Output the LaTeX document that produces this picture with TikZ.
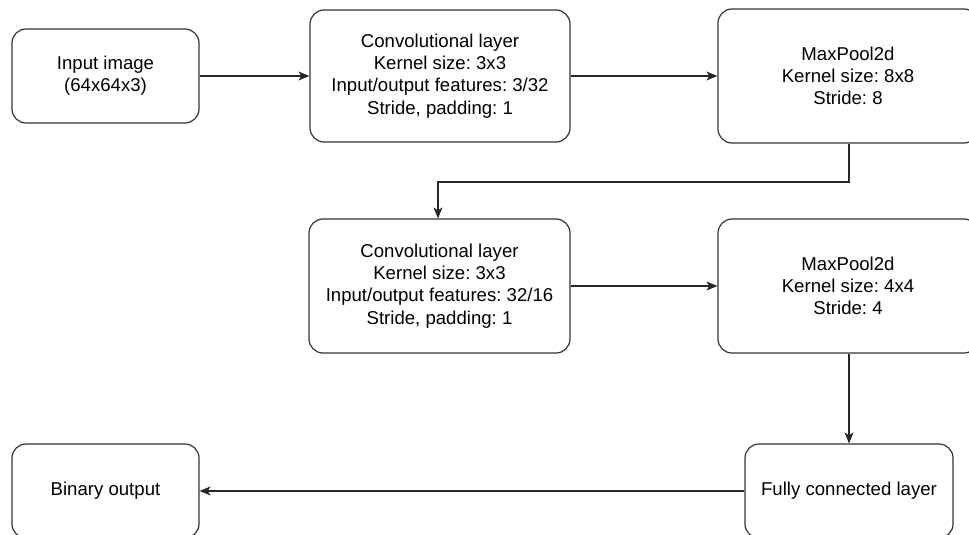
\documentclass[tikz,border=0pt]{standalone}
\usepackage{fontspec}
\setmainfont{Liberation Sans}
\usetikzlibrary{arrows.meta}
\frenchspacing
\begin{document}
\begin{tikzpicture}[x=1pt,y=-1pt,
  box/.style={draw=black!80, line width=1.2pt, rounded corners=14pt, fill=white,
    align=center, inner sep=0pt, font=\fontsize{18.6}{22.3}\selectfont},
  conn/.style={line width=1.2pt, draw=black!85, -{Stealth[length=11pt,width=9pt,inset=3pt]}}]
\useasboundingbox (0,0) rectangle (969,535);
\clip (0,0) rectangle (969,535);
\node[box, minimum width=187pt, minimum height=94pt] (inp) at (105.5,76) {Input image\\(64x64x3)};
\node[box, minimum width=260pt, minimum height=132pt] (c1) at (440,76) {Convolutional layer\\Kernel size: 3x3\\Input/output features: 3/32\\Stride, padding: 1};
\node[box, minimum width=260pt, minimum height=134pt] (m1) at (848,76) {MaxPool2d\\Kernel size: 8x8\\Stride: 8};
\node[box, minimum width=261pt, minimum height=134pt] (c2) at (439.5,286) {Convolutional layer\\Kernel size: 3x3\\Input/output features: 32/16\\Stride, padding: 1};
\node[box, minimum width=260pt, minimum height=134pt] (m2) at (848,286) {MaxPool2d\\Kernel size: 4x4\\Stride: 4};
\node[box, minimum width=208pt, minimum height=94pt] (fc) at (849,491) {Fully connected layer};
\node[box, minimum width=187pt, minimum height=94pt] (out) at (105.5,491) {Binary output};
\coordinate (k1) at (849,182);
\coordinate (k2) at (438,182);
\draw[conn] (inp.east) -- (c1.west);
\draw[conn] (c1.east) -- (m1.west);
\draw[conn] (k1 |- m1.south) -- (k1) -- (k2) -- (k2 |- c2.north);
\draw[conn] (c2.east) -- (c2.east -| m2.west);
\draw[conn] (k1 |- m2.south) -- (k1 |- fc.north);
\draw[conn] (fc.west) -- (out.east);
\end{tikzpicture}
\end{document}
